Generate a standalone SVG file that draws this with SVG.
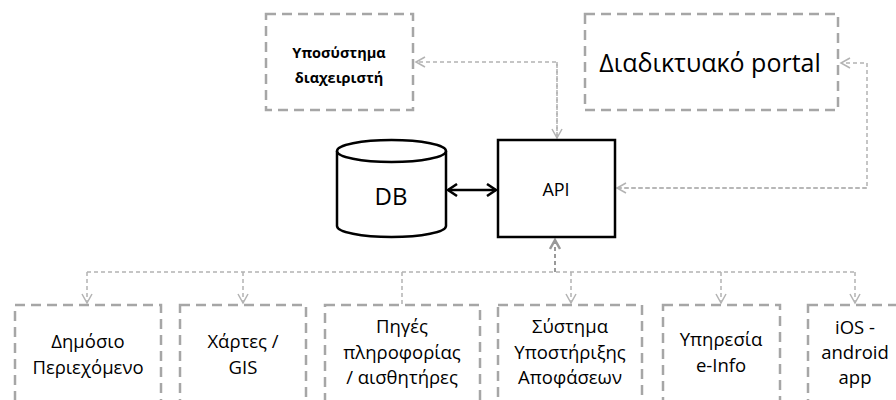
<svg xmlns="http://www.w3.org/2000/svg" width="896" height="400" viewBox="0 0 896 400">
<style>
.dbox{fill:#fff;stroke:#a6a6a6;stroke-width:2.5;stroke-dasharray:10 6}
.t{font-family:"Open Sans","Liberation Sans",sans-serif;fill:#000;text-anchor:middle}
.b{font-size:18.5px}
.c{fill:none;stroke:#b3b3b3;stroke-width:1.5;stroke-dasharray:4 3}
.solid{fill:#fff;stroke:#000;stroke-width:2.5}
</style>
<defs>
<marker id="open" markerWidth="12" markerHeight="12" refX="10" refY="6" orient="auto" markerUnits="userSpaceOnUse">
<path d="M1,1 L10,6 L1,11" fill="none" stroke="#b3b3b3" stroke-width="1.5"/>
</marker>
<marker id="up" markerWidth="12" markerHeight="12" refX="10" refY="6" orient="auto" markerUnits="userSpaceOnUse">
<path d="M1,1 L10,6 L1,11" fill="none" stroke="#999" stroke-width="2.5"/>
</marker>
<marker id="blk" markerWidth="14" markerHeight="14" refX="11" refY="7" orient="auto-start-reverse" markerUnits="userSpaceOnUse">
<path d="M2,1 L11,7 L2,13" fill="none" stroke="#000" stroke-width="2.5"/>
</marker>
</defs>
<rect width="896" height="400" fill="#fff"/>
<g id="connectors">
<path class="c" d="M557,138 V62 H416" marker-end="url(#open)"/>
<path d="M557,62 V138" class="c" marker-end="url(#open)"/>
<path class="c" d="M617,188 H867 V63 H841" marker-end="url(#open)"/>
<path d="M867,188 H617" class="c" marker-end="url(#open)"/>
<line x1="448" y1="190" x2="496" y2="190" stroke="#000" stroke-width="2.5" marker-start="url(#blk)" marker-end="url(#blk)"/>
<path class="c" d="M87,272 H855"/>
<path class="c" d="M555,272 V240" style="stroke:#999;stroke-width:2" marker-end="url(#up)"/>
<path class="c" d="M87,272 V303" marker-end="url(#open)"/>
<path class="c" d="M243,272 V303" marker-end="url(#open)"/>
<path class="c" d="M402,272 V305"/>
<path class="c" d="M571,272 V303" marker-end="url(#open)"/>
<path class="c" d="M721,272 V303" marker-end="url(#open)"/>
<path class="c" d="M855,272 V303" marker-end="url(#open)"/>
</g>
<g id="admin">
<rect class="dbox" x="266" y="14" width="147" height="96"/>
<text class="t" x="339" y="58" font-size="14.5" font-weight="bold">Υποσύστημα</text>
<text class="t" x="339" y="83" font-size="14.5" font-weight="bold">διαχειριστή</text>
</g>
<g id="portal">
<rect class="dbox" x="585" y="14" width="253" height="96"/>
<text class="t" x="710" y="72" font-size="25">Διαδικτυακό portal</text>
</g>
<g id="db">
<path class="solid" d="M337,151 V226 A54.5,11 0 0 0 446,226 V151"/>
<ellipse class="solid" cx="391.5" cy="151" rx="54.5" ry="11"/>
<text class="t" x="391" y="205" font-size="24">DB</text>
</g>
<g id="api">
<rect class="solid" x="498" y="140" width="117" height="97"/>
<text class="t" x="556" y="196" font-size="18">API</text>
</g>
<g id="n1">
<rect class="dbox" x="15" y="305" width="146" height="110"/>
<text class="t b" x="88" y="348">Δημόσιο</text>
<text class="t b" x="88" y="374">Περιεχόμενο</text>
</g>
<g id="n2">
<rect class="dbox" x="180" y="305" width="126" height="110"/>
<text class="t b" x="243" y="348">Χάρτες /</text>
<text class="t b" x="243" y="374">GIS</text>
</g>
<g id="n3">
<rect class="dbox" x="325" y="305" width="155" height="110"/>
<text class="t b" x="402" y="333">Πηγές</text>
<text class="t b" x="402" y="359">πληροφορίας</text>
<text class="t b" x="402" y="384">/ αισθητήρες</text>
</g>
<g id="n4">
<rect class="dbox" x="498" y="305" width="144" height="110"/>
<text class="t b" x="570" y="333">Σύστημα</text>
<text class="t b" x="570" y="359">Υποστήριξης</text>
<text class="t b" x="570" y="384">Αποφάσεων</text>
</g>
<g id="n5">
<rect class="dbox" x="663" y="305" width="117" height="110"/>
<text class="t b" x="721" y="346">Υπηρεσία</text>
<text class="t b" x="721" y="372">e-Info</text>
</g>
<g id="n6">
<rect class="dbox" x="808" y="305" width="110" height="110"/>
<text class="t b" x="855" y="334">iOS -</text>
<text class="t b" x="855" y="359">android</text>
<text class="t b" x="855" y="384">app</text>
</g>
</svg>
